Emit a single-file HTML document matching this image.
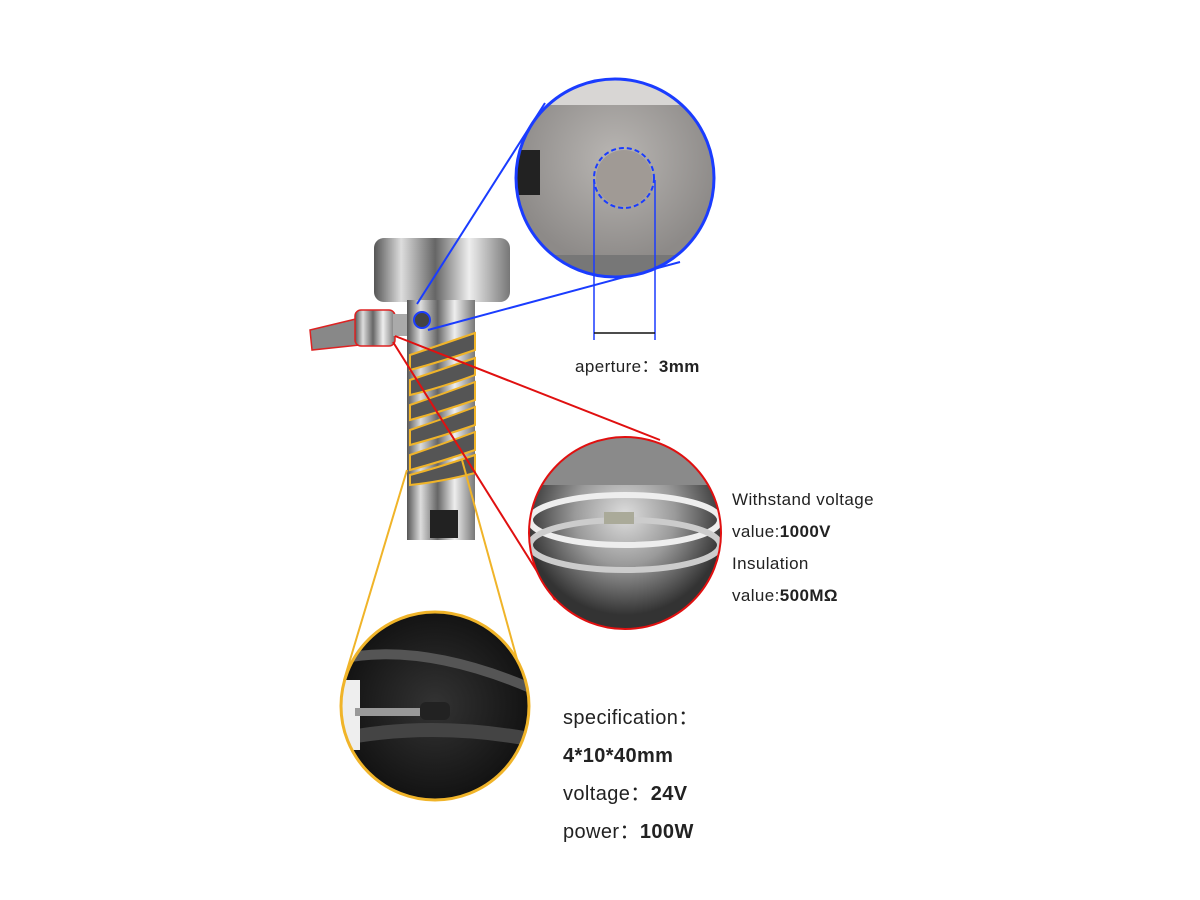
<!DOCTYPE html>
<html><head><meta charset="utf-8"><style>
body{margin:0;width:1200px;height:900px;background:#fff;overflow:hidden;position:relative;font-family:"Liberation Sans","Noto Sans CJK SC",sans-serif;color:#222}
.t{position:absolute;white-space:nowrap;letter-spacing:0.4px}
</style></head><body>
<svg width="1200" height="900" style="position:absolute;left:0;top:0">
<defs>
<linearGradient id="metal" x1="0" x2="1">
<stop offset="0" stop-color="#555"/><stop offset="0.2" stop-color="#ddd"/><stop offset="0.45" stop-color="#666"/><stop offset="0.7" stop-color="#eee"/><stop offset="1" stop-color="#777"/></linearGradient>
<radialGradient id="gray" cx="0.5" cy="0.4"><stop offset="0" stop-color="#b9b6b3"/><stop offset="1" stop-color="#8d8a88"/></radialGradient>
<radialGradient id="wire" cx="0.5" cy="0.4"><stop offset="0" stop-color="#ddd"/><stop offset="0.5" stop-color="#9a9a9a"/><stop offset="1" stop-color="#333"/></radialGradient>
<radialGradient id="blk" cx="0.5" cy="0.5"><stop offset="0" stop-color="#333"/><stop offset="1" stop-color="#111"/></radialGradient>
<clipPath id="c1"><circle cx="615" cy="178" r="99"/></clipPath>
<clipPath id="c2"><circle cx="625" cy="533" r="96"/></clipPath>
<clipPath id="c3"><circle cx="435" cy="706" r="94"/></clipPath>
</defs>
<path d="M310 330 L360 318 L360 345 L312 350 Z" fill="#888" stroke="#d22" stroke-width="1.5"/>
<rect x="355" y="310" width="40" height="36" rx="6" fill="url(#metal)" stroke="#d22" stroke-width="1.5"/>
<rect x="393" y="314" width="18" height="22" fill="#aaa"/>
<rect x="374" y="238" width="136" height="64" rx="10" fill="url(#metal)"/>
<rect x="407" y="300" width="68" height="240" fill="url(#metal)"/>
<rect x="430" y="510" width="28" height="28" fill="#222"/>
<g fill="#555" stroke="#f0b429" stroke-width="2">
<path d="M410 355 Q440 345 475 333 L475 350 Q440 362 410 370Z"/>
<path d="M410 380 Q440 370 475 358 L475 375 Q440 388 410 395Z"/>
<path d="M410 405 Q440 395 475 382 L475 400 Q440 412 410 420Z"/>
<path d="M410 430 Q440 420 475 407 L475 425 Q440 437 410 445Z"/>
<path d="M410 455 Q440 445 475 432 L475 450 Q440 462 410 470Z"/>
<path d="M410 475 Q440 467 475 455 L475 473 Q440 482 410 485Z"/>
</g>
<circle cx="422" cy="320" r="8" fill="#444" stroke="#1a3cff" stroke-width="2"/>
<line x1="417" y1="304" x2="545" y2="103" stroke="#1a3cff" stroke-width="2"/>
<line x1="428" y1="330" x2="680" y2="262" stroke="#1a3cff" stroke-width="2"/>
<g clip-path="url(#c1)">
<rect x="510" y="75" width="210" height="210" fill="url(#gray)"/>
<rect x="510" y="75" width="210" height="30" fill="#d8d6d4"/>
<rect x="510" y="150" width="30" height="45" fill="#222"/>
<rect x="510" y="255" width="210" height="30" fill="#777"/>
<circle cx="624" cy="178" r="28" fill="#a09a95"/>
</g>
<circle cx="615" cy="178" r="99" fill="none" stroke="#1a3cff" stroke-width="3"/>
<circle cx="624" cy="178" r="30" fill="none" stroke="#1a3cff" stroke-width="2" stroke-dasharray="5,3"/>
<line x1="594" y1="180" x2="594" y2="340" stroke="#1a3cff" stroke-width="1.5"/>
<line x1="655" y1="180" x2="655" y2="340" stroke="#1a3cff" stroke-width="1.5"/>
<line x1="594" y1="333" x2="655" y2="333" stroke="#111" stroke-width="1.5"/>
<line x1="395" y1="336" x2="660" y2="440" stroke="#e01010" stroke-width="2"/>
<line x1="393" y1="342" x2="555" y2="600" stroke="#e01010" stroke-width="2"/>
<g clip-path="url(#c2)">
<rect x="525" y="435" width="200" height="200" fill="url(#wire)"/>
<rect x="525" y="435" width="200" height="50" fill="#8a8a8a"/>
<ellipse cx="625" cy="520" rx="95" ry="25" fill="none" stroke="#eee" stroke-width="6"/>
<ellipse cx="625" cy="545" rx="95" ry="25" fill="none" stroke="#ccc" stroke-width="6"/>
<rect x="604" y="512" width="30" height="12" fill="#aa9"/>
</g>
<circle cx="625" cy="533" r="96" fill="none" stroke="#e01010" stroke-width="2"/>
<line x1="407" y1="470" x2="344" y2="680" stroke="#f0b429" stroke-width="2"/>
<line x1="462" y1="460" x2="520" y2="670" stroke="#f0b429" stroke-width="2"/>
<g clip-path="url(#c3)">
<rect x="335" y="605" width="200" height="200" fill="url(#blk)"/>
<path d="M335 660 Q420 640 535 690" stroke="#555" stroke-width="10" fill="none"/>
<path d="M335 740 Q430 720 535 740" stroke="#444" stroke-width="14" fill="none"/>
<rect x="340" y="680" width="20" height="70" fill="#eee"/>
<rect x="355" y="708" width="65" height="8" fill="#999"/>
<rect x="420" y="702" width="30" height="18" rx="6" fill="#222"/>
</g>
<circle cx="435" cy="706" r="94" fill="none" stroke="#f0b429" stroke-width="3"/>
</svg>
<div class="t" style="left:575px;top:352px;font-size:17px">aperture：<b>3mm</b></div>
<div class="t" style="left:732px;top:484px;font-size:17px;line-height:32px">Withstand voltage<br>value:<b>1000V</b><br>Insulation<br>value:<b>500MΩ</b></div>
<div class="t" style="left:563px;top:699px;font-size:20px;line-height:38px">specification：<br><b>4*10*40mm</b><br>voltage：<b>24V</b><br>power：<b>100W</b></div>
</body></html>
